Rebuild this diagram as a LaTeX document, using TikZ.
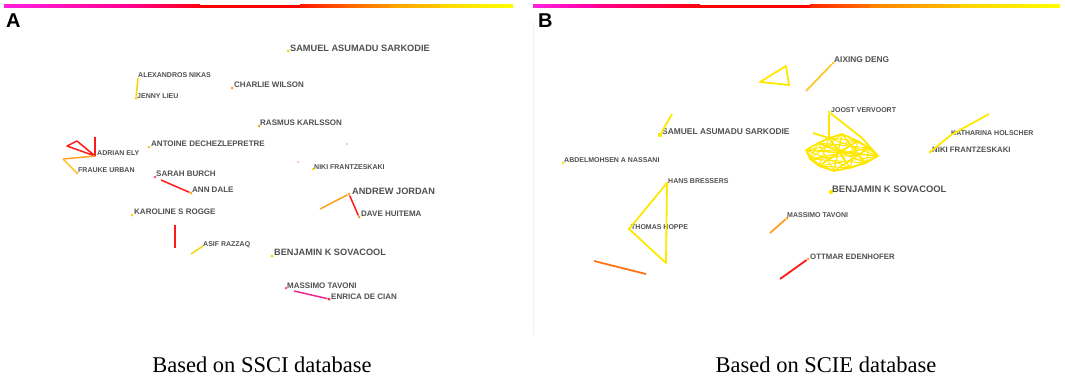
\documentclass[tikz,border=0pt]{standalone}
\usepackage{fontspec}
\setmainfont{Liberation Serif}
\newfontfamily\labfont{Liberation Sans}
\definecolor{labgray}{HTML}{505050}
\definecolor{cyel}{HTML}{FFE800}
\definecolor{cgold}{HTML}{FFC830}
\definecolor{corng}{HTML}{FFA020}
\definecolor{cdorng}{HTML}{FF7010}
\definecolor{cred}{HTML}{FF1A1A}
\definecolor{cpink}{HTML}{F0288C}
\definecolor{clpink}{HTML}{FFB0D8}
\definecolor{dyel}{HTML}{F2D800}
\definecolor{dorng}{HTML}{F0A030}
\definecolor{dpink}{HTML}{FF5090}
\definecolor{divgray}{HTML}{F0F0F0}
\begin{document}
\begin{tikzpicture}[x=1pt,y=-1pt,
  lab/.style={anchor=west,inner sep=0pt,text=labgray,text depth=0pt},
  bigl/.style={lab,font=\labfont\bfseries\fontsize{9.2}{10}\selectfont},
  medl/.style={lab,font=\labfont\bfseries\fontsize{8}{9}\selectfont},
  smll/.style={lab,font=\labfont\bfseries\fontsize{7}{8}\selectfont},
  dot/.style={circle,fill=#1,inner sep=0pt,minimum size=3pt},
  bdot/.style={circle,fill=#1,inner sep=0pt,minimum size=4.5pt},
  edge/.style={draw=#1,line width=1.5pt},
  bedge/.style={draw=#1,line width=1.8pt},
  cedge/.style={draw=cyel,line width=1pt},
  panel/.style={font=\labfont\bfseries\fontsize{20}{22}\selectfont,inner sep=0pt},
  capt/.style={font=\fontsize{22.5}{24}\selectfont,inner sep=0pt,anchor=base}
]
\path[use as bounding box] (0,0) rectangle (1065,375);

% ---------- colour bars ----------
\shade[left color={rgb,255:red,255;green,32;blue,224},right color={rgb,255:red,255;green,0;blue,144}] (4,4.5) rectangle (130,7.5);
\shade[left color={rgb,255:red,255;green,0;blue,144},right color={rgb,255:red,255;green,0;blue,16}] (130,4.5) rectangle (200,7.5);
\fill[red] (200,4.5) rectangle (300,7.5);
\shade[left color={rgb,255:red,255;green,24;blue,0},right color={rgb,255:red,255;green,90;blue,0}] (300,4.5) rectangle (345,7.5);
\shade[left color={rgb,255:red,255;green,96;blue,0},right color={rgb,255:red,255;green,150;blue,0}] (345,4.5) rectangle (390,7.5);
\shade[left color={rgb,255:red,255;green,160;blue,0},right color={rgb,255:red,255;green,200;blue,0}] (390,4.5) rectangle (440,7.5);
\shade[left color={rgb,255:red,255;green,214;blue,0},right color={rgb,255:red,255;green,255;blue,0}] (440,4.5) rectangle (513,7.5);

\shade[left color={rgb,255:red,255;green,32;blue,224},right color={rgb,255:red,255;green,0;blue,160}] (533,4.5) rectangle (595,7.5);
\shade[left color={rgb,255:red,255;green,0;blue,144},right color={rgb,255:red,255;green,0;blue,16}] (595,4.5) rectangle (700,7.5);
\fill[red] (700,4.5) rectangle (810,7.5);
\shade[left color={rgb,255:red,255;green,40;blue,0},right color={rgb,255:red,255;green,112;blue,0}] (810,4.5) rectangle (870,7.5);
\shade[left color={rgb,255:red,255;green,128;blue,0},right color={rgb,255:red,255;green,192;blue,0}] (870,4.5) rectangle (960,7.5);
\shade[left color={rgb,255:red,255;green,208;blue,0},right color={rgb,255:red,255;green,255;blue,0}] (960,4.5) rectangle (1060,7.5);

% divider
\draw[divgray,line width=0.8pt] (533,22) -- (533,335);

% panel letters
\node[panel,anchor=west] (pA) at (6,21) {A};
\node[panel,anchor=west] (pB) at (538,21) {B};

% ---------- Panel A ----------
\node[dot=dyel] (saA) at (288,51) {};
\node[bigl] (saAl) at (290,48) {SAMUEL ASUMADU SARKODIE};

\coordinate (anA) at (138,78);
\node[smll] (anAl) at (138,75) {ALEXANDROS NIKAS};
\node[dot=dyel] (jlA) at (136,98) {};
\node[smll] (jlAl) at (137,96) {JENNY LIEU};
\draw[edge=dyel] (anA) -- (jlA);

\node[dot=corng] (cwA) at (232,88) {};
\node[medl] (cwAl) at (234,85) {CHARLIE WILSON};

\node[dot=dorng] (rkA) at (259,126) {};
\node[medl] (rkAl) at (260,123) {RASMUS KARLSSON};

\node[dot=cgold] (adA) at (149,147) {};
\node[medl] (adAl) at (151,144) {ANTOINE DECHEZLEPRETRE};

\coordinate (aeA) at (95,156);
\node[smll] (aeAl) at (97,153) {ADRIAN ELY};
\coordinate (ae1) at (67,146);
\coordinate (ae2) at (77,141);
\coordinate (ae3) at (95,137);
\coordinate (ae4) at (63,159);
\coordinate (fuP) at (77,173);
\node[dot=cgold] (fuA) at (fuP) {};
\node[smll] (fuAl) at (78,170) {FRAUKE URBAN};
\draw[edge=cred,line join=round] (aeA) -- (ae1) -- (ae2) -- cycle;
\draw[edge=cred] (aeA) -- (ae3);
\draw[edge=corng] (aeA) -- (ae4);
\draw[edge=cgold] (ae4) -- (fuP);

\node[dot=dpink] (sbA) at (155,177) {};
\node[medl] (sbAl) at (156,174) {SARAH BURCH};
\coordinate (sb1) at (161,180);
\node[dot=corng] (daA) at (191,193) {};
\node[medl] (daAl) at (192,190) {ANN DALE};
\draw[edge=cred] (sb1) -- (daA);

\node[dot=clpink,minimum size=2.5pt] (pk1) at (298,162) {};
\node[dot=clpink,minimum size=2.5pt] (pk2) at (347,144) {};

\node[dot=dyel] (nfA) at (313,169) {};
\node[smll] (nfAl) at (314,167) {NIKI FRANTZESKAKI};

\node[dot=corng] (ajA) at (349,194) {};
\node[bigl] (ajAl) at (352,191) {ANDREW JORDAN};
\coordinate (aj1) at (320,209);
\node[dot=dorng] (dhA) at (359,217) {};
\node[medl] (dhAl) at (361,214) {DAVE HUITEMA};
\draw[edge=corng] (ajA) -- (aj1);
\draw[edge=cred] (ajA) -- (dhA);

\node[dot=dyel] (krA) at (132,215) {};
\node[medl] (krAl) at (134,212) {KAROLINE S ROGGE};
\coordinate (rl1) at (175,225);
\coordinate (rl2) at (175,248);
\draw[edge=cred] (rl1) -- (rl2);

\coordinate (ar1) at (191,254);
\coordinate (arA) at (203,246);
\node[smll] (arAl) at (203,244) {ASIF RAZZAQ};
\draw[edge=dyel] (ar1) -- (arA);

\node[dot=dyel] (bsA) at (272,256) {};
\node[bigl] (bsAl) at (274,252) {BENJAMIN K SOVACOOL};

\node[dot=dpink] (mtA) at (286,288) {};
\node[medl] (mtAl) at (287,286) {MASSIMO TAVONI};
\coordinate (mt1) at (294,291);
\node[dot=cred] (edA) at (329,299) {};
\node[medl] (edAl) at (331,297) {ENRICA DE CIAN};
\draw[edge=cpink] (mt1) -- (edA);

% ---------- Panel B ----------
\node[dot=cgold] (axB) at (833,63) {};
\node[lab,font=\labfont\bfseries\fontsize{8.3}{9}\selectfont] (axBl) at (834,60) {AIXING DENG};
\coordinate (ax1) at (806,91);
\draw[bedge=cgold] (axB) -- (ax1);

\coordinate (t1) at (760,82);
\coordinate (t2) at (786,66);
\coordinate (t3) at (789,85);
\draw[bedge=cyel,line join=round] (t1) -- (t2) -- (t3) -- cycle;

\node[bdot=cyel] (saB) at (660,135) {};
\node[lab,font=\labfont\bfseries\fontsize{8.4}{9}\selectfont] (saBl) at (662,132) {SAMUEL ASUMADU SARKODIE};
\coordinate (sa1) at (672,114);
\draw[bedge=cyel] (saB) -- (sa1);

\node[dot=cyel] (abB) at (563,163) {};
\node[smll] (abBl) at (564,160) {ABDELMOHSEN A NASSANI};

\coordinate (hbP) at (667,183);
\coordinate (thP) at (629,229);
\coordinate (hb1) at (666,263);
\node[dot=cyel] (hbB) at (hbP) {};
\node[smll] (hbBl) at (668,181) {HANS BRESSERS};
\node[dot=cyel] (thB) at (thP) {};
\node[smll] (thBl) at (631,227) {THOMAS HOPPE};
\draw[bedge=cyel,line join=round] (hbP) -- (thP) -- (hb1) -- cycle;

\coordinate (ol1) at (594,261);
\coordinate (ol2) at (646,274);
\draw[bedge=cdorng] (ol1) -- (ol2);

\node[dot=corng] (mtB) at (787,218) {};
\node[smll] (mtBl) at (787,215) {MASSIMO TAVONI};
\coordinate (mtb1) at (770,233);
\draw[bedge=corng] (mtB) -- (mtb1);

\node[dot=corng] (oeB) at (808,259) {};
\node[lab,font=\labfont\bfseries\fontsize{7.8}{9}\selectfont] (oeBl) at (810,257) {OTTMAR EDENHOFER};
\coordinate (oe1) at (780,279);
\draw[bedge=cred] (oeB) -- (oe1);

\node[bdot=cyel] (bsB) at (831,192) {};
\node[lab,font=\labfont\bfseries\fontsize{9.4}{10}\selectfont] (bsBl) at (832,189) {BENJAMIN K SOVACOOL};

\coordinate (nfP) at (930,152);
\node[dot=cyel] (nfB) at (nfP) {};
\node[lab,font=\labfont\bfseries\fontsize{7.8}{9}\selectfont] (nfBl) at (932,150) {NIKI FRANTZESKAKI};
\coordinate (khB) at (951,135);
\node[smll] (khBl) at (951,133) {KATHARINA HOLSCHER};
\coordinate (kh1) at (989,114);
\draw[bedge=cyel,line join=round] (nfP) -- (khB) -- (kh1);

% cluster
\coordinate (c1) at (806,150);
\coordinate (c2) at (818,143);
\coordinate (c3) at (829,138);
\coordinate (c4) at (842,134);
\coordinate (c5) at (858,141);
\coordinate (c6) at (869,148);
\coordinate (c7) at (878,156);
\coordinate (c8) at (866,163);
\coordinate (c9) at (850,168);
\coordinate (c10) at (834,171);
\coordinate (c11) at (819,166);
\coordinate (c12) at (810,159);
\coordinate (c13) at (840,151);
\coordinate (c14) at (857,155);
\foreach \i in {1,...,12}{
  \pgfmathtruncatemacro\ja{mod(\i+1,12)+1}
  \pgfmathtruncatemacro\jb{mod(\i+3,12)+1}
  \pgfmathtruncatemacro\jc{mod(\i+5,12)+1}
  \draw[cedge] (c\i) -- (c\ja);
  \draw[cedge] (c\i) -- (c\jb);
  \draw[cedge] (c\i) -- (c\jc);
}
\foreach \i in {1,3,5,7,9,11}{ \draw[cedge] (c13) -- (c\i); }
\foreach \i in {2,4,6,8,10,12}{ \draw[cedge] (c14) -- (c\i); }
\draw[cedge,line width=1.6pt,line join=round] (c1)--(c2)--(c3)--(c4)--(c5)--(c6)--(c7)--(c8)--(c9)--(c10)--(c11)--(c12)--cycle;

\node[dot=cyel] (jvB) at (829,112) {};
\node[smll] (jvBl) at (831,110) {JOOST VERVOORT};
\coordinate (jv1) at (862,138);
\coordinate (jv2) at (813,133);
\draw[bedge=cyel] (jvB) -- (c3);
\draw[bedge=cyel,line join=round] (jvB) -- (jv1) -- (c7);
\draw[bedge=cyel] (jv2) -- (c3);

% captions
\node[capt] (capA) at (262,372) {Based on SSCI database};
\node[capt] (capB) at (826,372) {Based on SCIE database};
\end{tikzpicture}
\end{document}
